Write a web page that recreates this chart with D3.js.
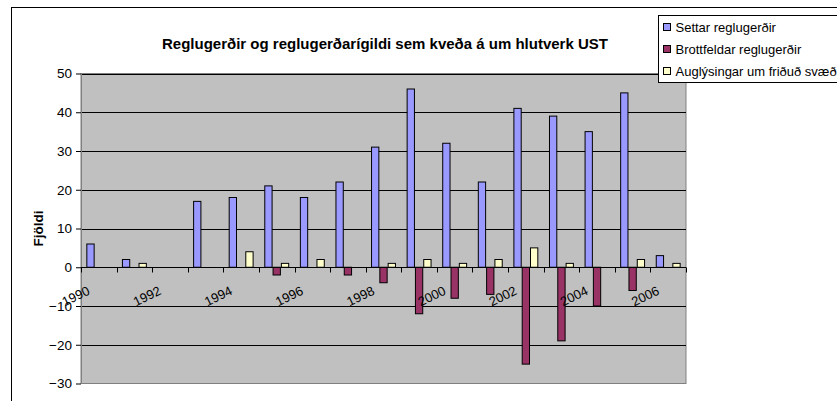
<!DOCTYPE html>
<html>
<head>
<meta charset="utf-8">
<script src="https://cdn.jsdelivr.net/npm/d3@7"></script>
<style>
  body { margin: 0; background: #fff; }
  text { font-family: Arial, "Liberation Sans", sans-serif; fill: #000; }
  .plot-title { font-size: 15px; font-weight: bold; }
  .y-axis-title { font-size: 13.5px; font-weight: bold; }
  .tick-label { font-size: 13px; }
  .legend-text { font-size: 13px; }
</style>
</head>
<body>
<div id="chart"></div>
<script>
// data
const years = ["1990","1991","1992","1993","1994","1995","1996","1997","1998","1999","2000","2001","2002","2003","2004","2005","2006"]
const seriesNames = ["Settar reglugerðir", "Brottfeldar reglugerðir", "Auglýsingar um friðuð svæði"]
const settar      = [6, 2, 0, 17, 18, 21, 18, 22, 31, 46, 32, 22, 41, 39, 35, 45, 3]
const brottfeldar = [0, 0, 0, 0, 0, -2, 0, -2, -4, -12, -8, -7, -25, -19, -10, -6, 0]
const auglysingar = [0, 1, 0, 0, 4, 1, 2, 0, 1, 2, 1, 2, 5, 1, 0, 2, 1]
const yTicks = [-30, -20, -10, 0, 10, 20, 30, 40, 50]
const xLabels = ["1990", "1992", "1994", "1996", "1998", "2000", "2002", "2004", "2006"]

const width = 837, height = 401
const plot = {left: 81, right: 686, top: 73.5, bottom: 383.5}

const svg = d3.select("#chart")
    .append("svg")
    .attr("width", width)
    .attr("height", height)

// chart area border (runs off the picture)
svg.append("rect")
    .attr("x", 11.5)
    .attr("y", 7.5)
    .attr("width", 900)
    .attr("height", 500)
    .attr("fill", "#fff")
    .attr("stroke", "#000")

// scales
const x = d3.scaleBand()
    .domain(years)
    .range([plot.left, plot.right])
    .padding(0)

const gap = x.bandwidth() * 0.15
const xSub = d3.scaleBand()
    .domain(seriesNames)
    .range([gap, x.bandwidth() - gap])
    .padding(0)

const y = d3.scaleLinear()
    .domain([-30, 50])
    .range([plot.bottom, plot.top])

const color = d3.scaleOrdinal()
    .domain(seriesNames)
    .range(["#9999FF", "#993366", "#FFFFCC"])

// plot area
svg.append("rect")
    .attr("x", plot.left)
    .attr("y", plot.top)
    .attr("width", plot.right - plot.left)
    .attr("height", plot.bottom - plot.top)
    .attr("fill", "#C0C0C0")
    .attr("stroke", "#808080")

// gridlines
svg.append("g")
    .selectAll("line")
    .data(yTicks.filter(d => d != 0 && d != -30))
    .join("line")
    .attr("x1", plot.left)
    .attr("x2", plot.right)
    .attr("y1", d => Math.round(y(d)) + 0.5)
    .attr("y2", d => Math.round(y(d)) + 0.5)
    .attr("stroke", "#000")

// y axis
const yAxis = svg.append("g")
    .attr("class", "y-axis")
    .attr("transform", `translate(${plot.left},0)`)
    .call(d3.axisLeft(y)
        .tickValues(yTicks)
        .tickSizeInner(5)
        .tickSizeOuter(0)
        .tickPadding(4))
yAxis.select(".domain").attr("stroke", "#808080")
yAxis.selectAll(".tick line").attr("stroke", "#000")
yAxis.selectAll(".tick text")
    .attr("class", "tick-label")
    .style("font-size", "13.5px")
    .style("font-family", "Arial, 'Liberation Sans', sans-serif")
    .attr("fill", "#000")

// bars
const rows = years.map((yr, i) => ({year: yr, values: [settar[i], brottfeldar[i], auglysingar[i]]}))

svg.append("g")
    .selectAll("g")
    .data(rows)
    .join("g")
    .attr("transform", d => `translate(${x(d.year)},0)`)
    .selectAll("rect")
    .data(d => seriesNames.map((key, j) => ({key: key, value: d.values[j]})))
    .join("rect")
    .filter(d => d.value != 0)
    .attr("x", d => xSub(d.key) + 0.5)
    .attr("y", d => y(Math.max(0, d.value)))
    .attr("width", xSub.bandwidth() - 1)
    .attr("height", d => Math.abs(y(d.value) - y(0)))
    .attr("fill", d => color(d.key))
    .attr("stroke", "#000")

// category axis at zero
const y0 = Math.round(y(0)) + 0.5
svg.append("line")
    .attr("x1", plot.left)
    .attr("x2", plot.right)
    .attr("y1", y0)
    .attr("y2", y0)
    .attr("stroke", "#000")

svg.append("g")
    .selectAll("line")
    .data(years.concat(["end"]))
    .join("line")
    .attr("x1", d => Math.round(d == "end" ? x.range()[1] : x(d)) + 0.5)
    .attr("x2", d => Math.round(d == "end" ? x.range()[1] : x(d)) + 0.5)
    .attr("y1", y0)
    .attr("y2", y0 + 5)
    .attr("stroke", "#000")

svg.append("g")
    .selectAll("text")
    .data(xLabels)
    .join("text")
    .attr("class", "tick-label")
    .attr("text-anchor", "end")
    .attr("transform", d => `translate(${x(d) + x.bandwidth() / 2 - 8},${y(0) + 26.5}) rotate(-26)`)
    .text(d => d)

// title
svg.append("text")
    .attr("class", "plot-title")
    .attr("x", 385)
    .attr("y", 48.5)
    .attr("text-anchor", "middle")
    .text("Reglugerðir og reglugerðarígildi sem kveða á um hlutverk UST")

svg.append("text")
    .attr("class", "y-axis-title")
    .attr("text-anchor", "middle")
    .attr("transform", `translate(43,${(plot.top + plot.bottom) / 2}) rotate(-90)`)
    .text("Fjöldi")

// legend
const legend = svg.append("g")
    .attr("transform", "translate(658.5,15.5)")

legend.append("rect")
    .attr("width", 300)
    .attr("height", 67)
    .attr("fill", "#fff")
    .attr("stroke", "#000")

seriesNames.forEach((name, i) => {
    legend.append("rect")
        .attr("x", 5)
        .attr("y", 8 + i * 22)
        .attr("width", 7)
        .attr("height", 7)
        .attr("fill", color(name))
        .attr("stroke", "#000")
    legend.append("text")
        .attr("class", "legend-text")
        .attr("x", 17)
        .attr("y", 16.5 + i * 22)
        .text(name)
})
</script>
</body>
</html>
